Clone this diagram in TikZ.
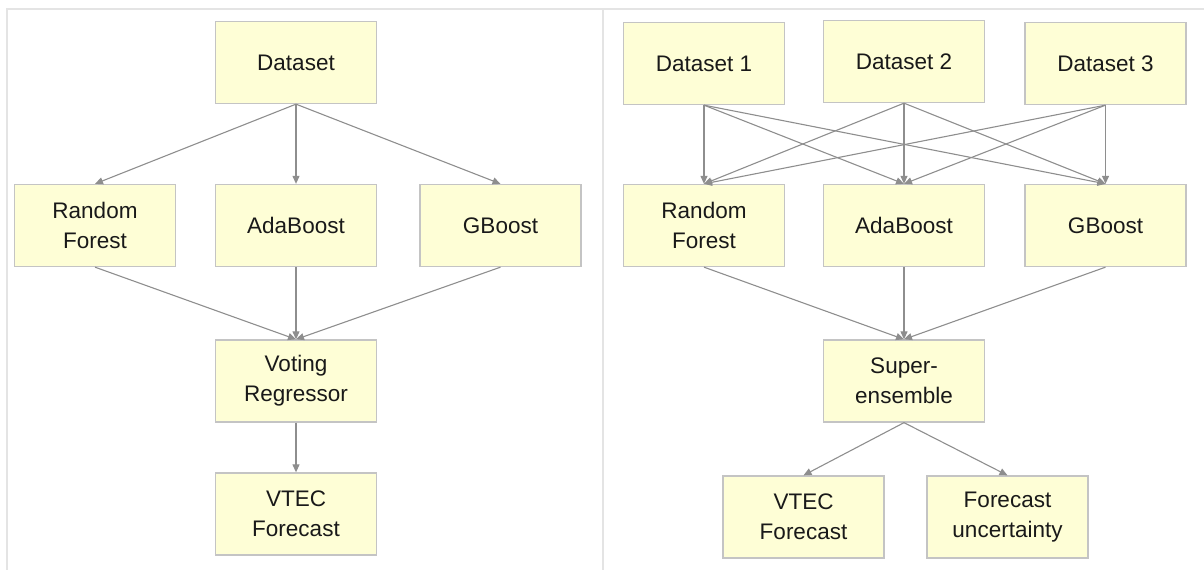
\documentclass[tikz,border=0pt]{standalone}
\usepackage{fontspec}
\setmainfont{Liberation Sans}
\usetikzlibrary{arrows.meta}
\definecolor{boxfill}{HTML}{FEFED6}
\definecolor{boxline}{HTML}{C4C4C4}
\definecolor{arrgray}{HTML}{8E8E8E}
\definecolor{framegray}{HTML}{E4E4E4}
\tikzset{
  box/.style={draw=boxline, line width=1.3pt, fill=boxfill, rectangle,
    minimum width=161pt, minimum height=82pt, inner sep=0pt, align=center,
    font=\fontsize{22.5}{30}\selectfont, text=black!90},
  arr/.style={draw=arrgray, line width=1.1pt,
    -{Triangle[length=8pt,width=7pt]}},
  frame/.style={draw=framegray, line width=2pt}
}
\begin{document}
\begin{tikzpicture}[x=1pt,y=-1pt]
\useasboundingbox (0,0) rectangle (1204,570);
% panel frame and divider
\draw[frame] (7,570) -- (7,9) -- (1204,9);
\draw[frame] (603,9) -- (603,570);

% left panel: voting regressor
\node[box] (ds)  at (296,62.5)  {Dataset};
\node[box] (rf)  at (95,225.5)  {Random\\Forest};
\node[box] (ada) at (296,225.5) {AdaBoost};
\node[box] (gb)  at (500.5,225.5) {GBoost};
\node[box] (vr)  at (296,381)   {Voting\\Regressor};
\node[box] (vt)  at (296,514)   {VTEC\\Forecast};

\draw[arr] (ds.south) -- (rf.north);
\draw[arr] (ds.south) -- (ada.north);
\draw[arr] (ds.south) -- (gb.north);
\draw[arr] (rf.south) -- (vr.north);
\draw[arr] (ada.south) -- (vr.north);
\draw[arr] (gb.south) -- (vr.north);
\draw[arr] (vr.south) -- (vt.north);

% right panel: super-ensemble
\node[box] (d1)   at (704,63.5)    {Dataset 1};
\node[box] (d2)   at (904,61.5)    {Dataset 2};
\node[box] (d3)   at (1105.5,63.5) {Dataset 3};
\node[box] (rf2)  at (704,225.5)   {Random\\Forest};
\node[box] (ada2) at (904,225.5)   {AdaBoost};
\node[box] (gb2)  at (1105.5,225.5) {GBoost};
\node[box] (se)   at (904,381)     {Super-\\ensemble};
\node[box] (vt2)  at (803.5,517)   {VTEC\\Forecast};
\node[box] (fu)   at (1007.5,517)  {Forecast\\uncertainty};

\foreach \s in {d1,d2,d3}
  \foreach \t in {rf2,ada2,gb2}
    \draw[arr] (\s.south) -- (\t.north);
\draw[arr] (rf2.south) -- (se.north);
\draw[arr] (ada2.south) -- (se.north);
\draw[arr] (gb2.south) -- (se.north);
\draw[arr] (se.south) -- (vt2.north);
\draw[arr] (se.south) -- (fu.north);
\end{tikzpicture}
\end{document}
